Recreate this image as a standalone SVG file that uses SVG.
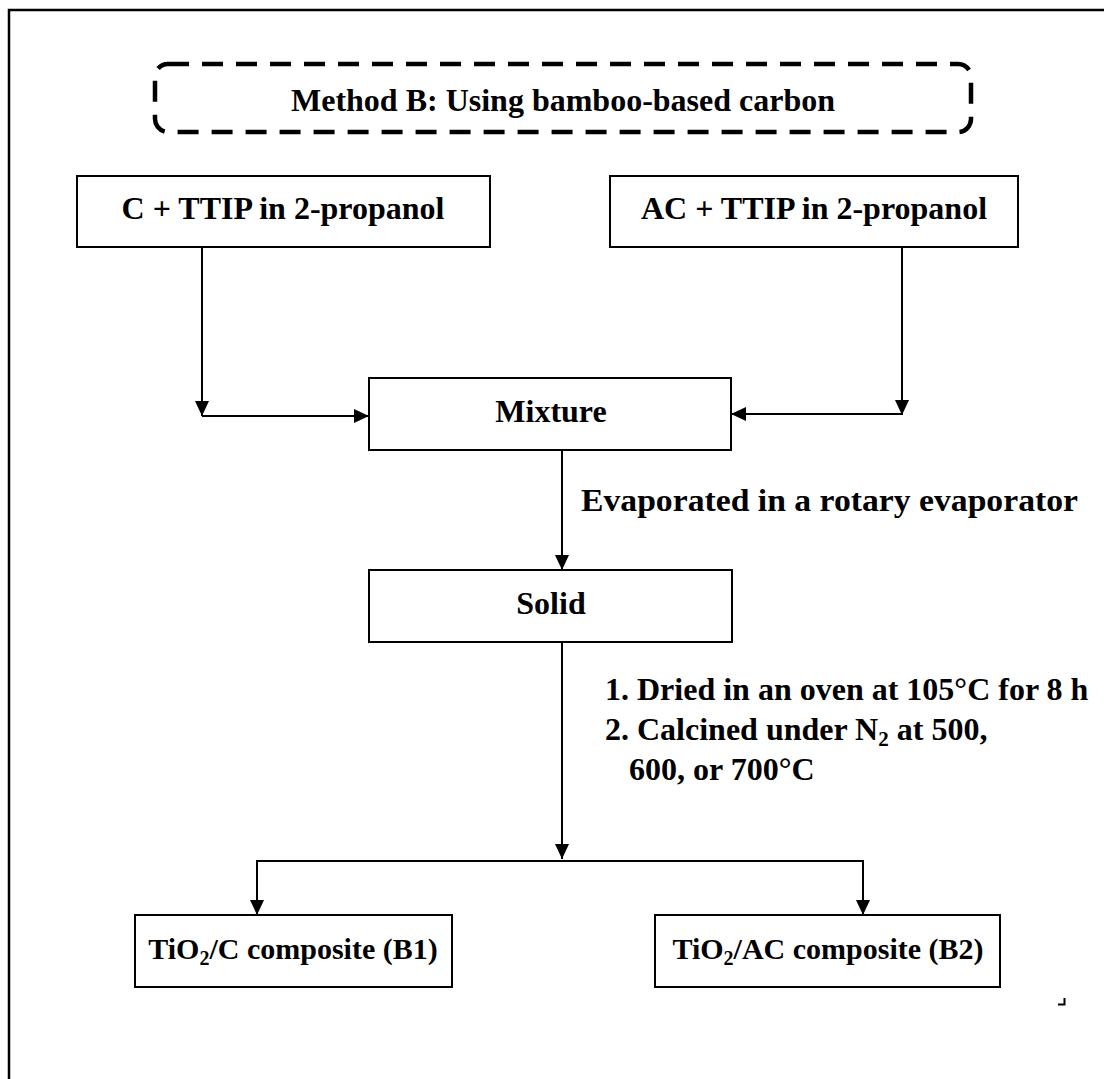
<svg xmlns="http://www.w3.org/2000/svg" width="1104" height="1079" viewBox="0 0 1104 1079">
<style>
.box{fill:#fff;stroke:#000;stroke-width:2}
.t{font-family:"Liberation Serif","Times New Roman",serif;font-weight:bold;font-size:32px;fill:#000}
.c{text-anchor:middle}
.ln{fill:none;stroke:#000;stroke-width:2}
.sub{font-size:21px}
.s30{font-size:30px}
.s30 .sub{font-size:20px}
</style>
<defs>
<marker id="ah" markerUnits="userSpaceOnUse" markerWidth="16" markerHeight="16" viewBox="0 0 16 16" refX="15" refY="8" orient="auto">
<path d="M0,1 L15,8 L0,15 Z" fill="#000"/>
</marker>
</defs>
<rect width="1104" height="1079" fill="#fff"/>
<g id="frame">
<path d="M9,1079 V10 H1104" fill="none" stroke="#000" stroke-width="2.5"/>
<path d="M1058,1004.5 H1064.5 V998" fill="none" stroke="#000" stroke-width="2"/>
</g>
<g id="title">
<rect x="155" y="64" width="816" height="68" rx="13" fill="none" stroke="#000" stroke-width="4.5" stroke-dasharray="21 13"/>
<text class="t c" x="563" y="111">Method B: Using bamboo-based carbon</text>
</g>
<g id="n1">
<rect class="box" x="77" y="176" width="413" height="71"/>
<text class="t c" x="283" y="219">C + TTIP in 2-propanol</text>
</g>
<g id="n2">
<rect class="box" x="610" y="176" width="408" height="71"/>
<text class="t c" x="814" y="219">AC + TTIP in 2-propanol</text>
</g>
<g id="n3">
<rect class="box" x="369" y="378" width="362" height="72"/>
<text class="t c" x="551" y="422">Mixture</text>
</g>
<g id="n4">
<rect class="box" x="369" y="570" width="363" height="72"/>
<text class="t c" x="551" y="614">Solid</text>
</g>
<g id="n5">
<rect class="box" x="135" y="915" width="317" height="72"/>
<text class="t c s30" x="293" y="959">TiO<tspan class="sub" dy="6">2</tspan><tspan dy="-6">/C composite (B1)</tspan></text>
</g>
<g id="n6">
<rect class="box" x="655" y="915" width="345" height="72"/>
<text class="t c s30" x="828" y="959">TiO<tspan class="sub" dy="6">2</tspan><tspan dy="-6">/AC composite (B2)</tspan></text>
</g>
<g id="connectors">
<path class="ln" d="M202,247 V416" marker-end="url(#ah)"/>
<path class="ln" d="M202,416 H369" marker-end="url(#ah)"/>
<path class="ln" d="M902,247 V415" marker-end="url(#ah)"/>
<path class="ln" d="M902,414 H731" marker-end="url(#ah)"/>
<path class="ln" d="M562,450 V570" marker-end="url(#ah)"/>
<path class="ln" d="M562,642 V859" marker-end="url(#ah)"/>
<path class="ln" d="M257,915 V861 H863 V915"/>
<path class="ln" d="M257,880 V915" marker-end="url(#ah)"/>
<path class="ln" d="M863,880 V915" marker-end="url(#ah)"/>
</g>
<g id="labels">
<text class="t" x="581" y="511" textLength="497" lengthAdjust="spacingAndGlyphs">Evaporated in a rotary evaporator</text>
<text class="t" x="605" y="700">1. Dried in an oven at 105°C for 8 h</text>
<text class="t" x="605" y="740">2. Calcined under N<tspan class="sub" dy="6">2</tspan><tspan dy="-6"> at 500,</tspan></text>
<text class="t" x="629" y="780">600, or 700°C</text>
</g>
</svg>
